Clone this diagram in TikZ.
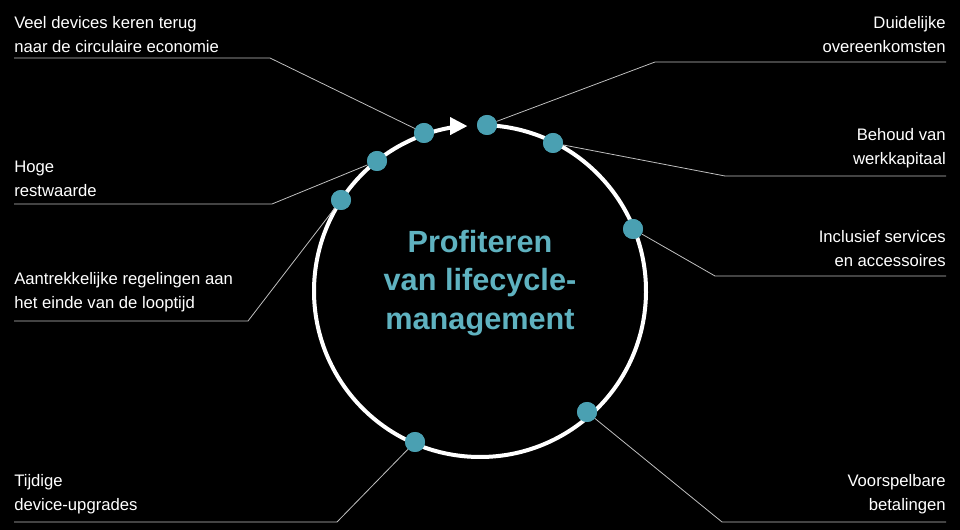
\documentclass[tikz,border=0pt]{standalone}
\usepackage{fontspec}
\setmainfont{Liberation Sans}
\usetikzlibrary{arrows.meta}
\definecolor{teal1}{RGB}{74,160,178}
\definecolor{titlec}{RGB}{95,178,192}
\begin{document}
\begin{tikzpicture}[x=0.75pt,y=-0.75pt,
  dot/.style={circle,fill=teal1,inner sep=0pt,minimum size=15pt},
  lead/.style={draw=white!75!black,line width=0.6pt},
  lab/.style={text=white,font=\fontsize{12.5}{18}\selectfont,inner sep=0pt},
  labl/.style={lab,anchor=south west,align=left},
  labr/.style={lab,anchor=south east,align=right}]
\fill[black] (0,0) rectangle (960,530);
\useasboundingbox (0,0) rectangle (960,530);
\coordinate (c) at (480,291);
% ring
\draw[white,line width=3pt] (c) ++(-88:166) arc[start angle=-88,end angle=262,radius=166];
\fill[white] (c) ++(-96.5:166) ++(6,0) -- ++(-17,-9) -- ++(0,18) -- cycle;
% dots
\foreach \n/\p in {a/{(424,133)},b/{(377,161)},d/{(341,200)},e/{(415,442)},f/{(487,125)},g/{(553,143)},h/{(633,229)},i/{(587,412)}}
  \node[dot] (\n) at \p {};
% labels
\node[labl] (la) at (14,53) {Veel devices keren terug\\naar de circulaire economie};
\node[labl] (lb) at (14,197) {Hoge\\restwaarde};
\node[labl] (ld) at (14,312) {Aantrekkelijke regelingen aan\\het einde van de looptijd};
\node[labl] (le) at (14,514) {Tijdige\\device-upgrades};
\node[labr] (lf) at (946,53) {Duidelijke\\overeenkomsten};
\node[labr] (lg) at (946,168) {Behoud van\\werkkapitaal};
\node[labr] (lh) at (946,267) {Inclusief services\\en accessoires};
\node[labr] (li) at (946,514) {Voorspelbare\\betalingen};
% leaders
\draw[lead] (a) -- (270,58) -- (14,58);
\draw[lead] (b) -- (272,204) -- (14,204);
\draw[lead] (d) -- (248,321) -- (14,321);
\draw[lead] (e) -- (337,522) -- (14,522);
\draw[lead] (f) -- (655,62) -- (946,62);
\draw[lead] (g) -- (725,176) -- (946,176);
\draw[lead] (h) -- (715,276) -- (946,276);
\draw[lead] (i) -- (722,522) -- (946,522);
\foreach \n in {a,b,d,e,f,g,h,i} \node[dot] at (\n) {};
% title
\node[text=titlec,font=\bfseries\fontsize{23}{29}\selectfont,align=center] (t) at (480,283) {Profiteren\\van lifecycle-\\management};
\end{tikzpicture}
\end{document}
